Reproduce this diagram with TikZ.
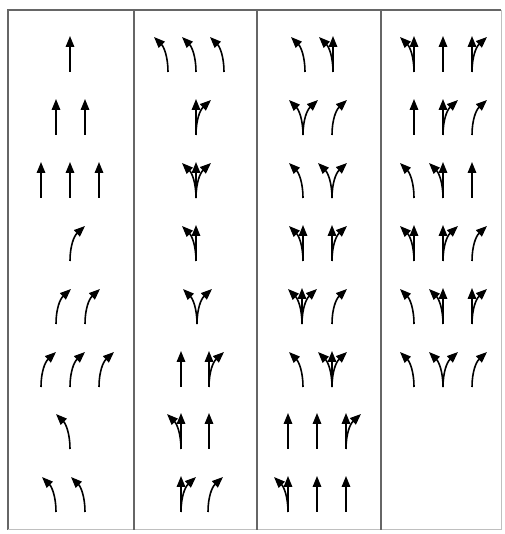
\documentclass[tikz,border=0pt]{standalone}
\usepackage{tikz}
\usetikzlibrary{arrows.meta}

\begin{document}
\begin{tikzpicture}[x=1pt, y=1pt,
    lane/.style={line width=1.6pt, -{Triangle[length=11pt, width=8.5pt]}},
    frame/.style={draw=black!60, line width=1.3pt},
    faint frame/.style={draw=black!25, line width=1pt},
    ahead/.pic={\draw[lane] (0,0) -- (0,36);},
    turnleft/.pic={\draw[lane] (0,0) .. controls (0,15) and (-4,25) .. (-14,35);},
    turnright/.pic={\draw[lane] (0,0) .. controls (0,15) and (4,25) .. (15,35);},
    aheadleft/.pic={\pic {turnleft}; \pic {ahead};},
    aheadright/.pic={\pic {turnright}; \pic {ahead};},
    leftright/.pic={\pic {turnleft}; \pic {turnright};},
    allthree/.pic={\pic {turnleft}; \pic {turnright}; \pic {ahead};}
]
\useasboundingbox (0,0) rectangle (504,534);

% Table frame
\draw[frame] (8,4) -- (8,524) -- (501,524);
\draw[faint frame] (501,524) -- (501,4) -- (8,4);
\draw[frame] (134,4) -- (134,524);
\draw[frame] (257,4) -- (257,524);
\draw[frame] (381,4) -- (381,524);

% Column 1
\pic at (70,462) {ahead};
\pic at (56,399) {ahead};
\pic at (85,399) {ahead};
\pic at (41,336) {ahead};
\pic at (70,336) {ahead};
\pic at (99,336) {ahead};
\pic at (70,273) {turnright};
\pic at (56,210) {turnright};
\pic at (85,210) {turnright};
\pic at (41,147) {turnright};
\pic at (70,147) {turnright};
\pic at (99,147) {turnright};
\pic at (70,85) {turnleft};
\pic at (56,22) {turnleft};
\pic at (85,22) {turnleft};

% Column 2
\pic at (168,462) {turnleft};
\pic at (196,462) {turnleft};
\pic at (224,462) {turnleft};
\pic at (196,399) {aheadright};
\pic at (196,336) {allthree};
\pic at (196,273) {aheadleft};
\pic at (197,210) {leftright};
\pic at (181,147) {ahead};
\pic at (209,147) {aheadright};
\pic at (181,85) {aheadleft};
\pic at (209,85) {ahead};
\pic at (181,22) {aheadright};
\pic at (208,22) {turnright};

% Column 3
\pic at (305,462) {turnleft};
\pic at (333,462) {aheadleft};
\pic at (303,399) {leftright};
\pic at (332,399) {turnright};
\pic at (303,336) {turnleft};
\pic at (332,336) {leftright};
\pic at (303,273) {aheadleft};
\pic at (332,273) {aheadright};
\pic at (302,210) {allthree};
\pic at (332,210) {turnright};
\pic at (303,147) {turnleft};
\pic at (332,147) {allthree};
\pic at (288,85) {ahead};
\pic at (317,85) {ahead};
\pic at (346,85) {aheadright};
\pic at (288,22) {aheadleft};
\pic at (317,22) {ahead};
\pic at (346,22) {ahead};

% Column 4
\pic at (414,462) {aheadleft};
\pic at (443,462) {ahead};
\pic at (472,462) {aheadright};
\pic at (414,399) {ahead};
\pic at (443,399) {aheadright};
\pic at (472,399) {turnright};
\pic at (414,336) {turnleft};
\pic at (443,336) {aheadleft};
\pic at (472,336) {ahead};
\pic at (414,273) {aheadleft};
\pic at (443,273) {aheadright};
\pic at (472,273) {turnright};
\pic at (414,210) {turnleft};
\pic at (443,210) {aheadleft};
\pic at (472,210) {aheadright};
\pic at (414,147) {turnleft};
\pic at (443,147) {leftright};
\pic at (472,147) {turnright};

\end{tikzpicture}
\end{document}
